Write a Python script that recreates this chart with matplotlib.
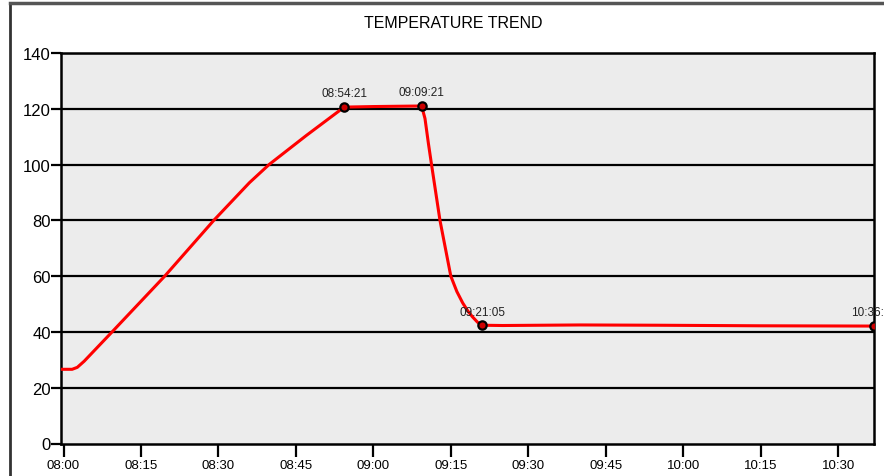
import pandas as pd
import matplotlib
matplotlib.use('Agg')
import matplotlib.pyplot as plt
import matplotlib.dates as mdates
from matplotlib.lines import Line2D

plt.rcParams['font.family'] = ['Liberation Sans', 'DejaVu Sans']

# Temperature trace
times = ['07:59:25', '08:01:40', '08:02:40', '08:04:00', '08:09:24', '08:19:36',
         '08:29:06', '08:36:00', '08:39:48', '08:47:00', '08:54:21', '09:00:00',
         '09:09:21', '09:10:00', '09:10:40', '09:11:16', '09:12:54', '09:15:00',
         '09:16:10', '09:17:18', '09:18:20', '09:19:12', '09:20:10', '09:21:05',
         '09:25:00', '09:40:00', '09:55:00', '10:15:00', '10:36:57']
temps = [26.6, 26.6, 27.3, 29.5, 40.0, 60.0,
         80.0, 93.5, 100.0, 110.4, 120.6, 120.8,
         121.0, 116.5, 107.5, 100.0, 80.0, 60.0,
         54.5, 50.4, 47.4, 45.4, 43.5, 42.4,
         42.3, 42.5, 42.4, 42.2, 42.1]

# Marked points with their time stamps
mark_times = ['08:54:21', '09:09:21', '09:21:05', '10:36:57']
mark_temps = [120.6, 121.0, 42.4, 42.1]

day = '2020-01-01 '
t = pd.to_datetime([day + s for s in times])
mt = pd.to_datetime([day + s for s in mark_times])

fig = plt.figure(figsize=(8.84, 4.77), dpi=100)
ax = fig.add_axes([60.5 / 884, 1 - 444.5 / 477, (874 - 60.5) / 884, (444.5 - 54) / 477])
ax.set_facecolor('#ececec')

for y in range(20, 141, 20):
    ax.axhline(y, color='black', lw=1.6, zorder=1)

ax.plot(t, temps, color='#ff0000', lw=2.2, zorder=3)
ax.plot(mt, mark_temps, 'o', ms=6, mfc='#cc0000', mec='black', mew=1.6, zorder=4)
for x, y, s in zip(mt, mark_temps, mark_times):
    ax.annotate(s, (x, y), xytext=(0, 5.5), textcoords='offset points',
                ha='center', va='bottom', fontsize=8.5, color='#222222',
                annotation_clip=False, zorder=5)

ax.set_xlim(t[0], t[-1])
ax.set_ylim(0, 140)
ax.set_yticks(range(0, 141, 20))
ax.xaxis.set_major_locator(mdates.MinuteLocator(byminute=[0, 15, 30, 45]))
ax.xaxis.set_major_formatter(mdates.DateFormatter('%H:%M'))
ax.tick_params(axis='y', length=7, width=1.6, pad=0, labelsize=12)
ax.tick_params(axis='x', length=9, width=1.6, pad=2, labelsize=9.5)
for sp in ax.spines.values():
    sp.set_linewidth(1.8)

fig.text(453 / 884, 1 - 23 / 477, 'TEMPERATURE TREND', ha='center', va='center', fontsize=11.5)

# outer panel frame (right and bottom edges fall outside the picture)
fig.add_artist(Line2D([9.5 / 884, 9.5 / 884], [0, 1 - 3.5 / 477], color='#333333', lw=2))
fig.add_artist(Line2D([9.5 / 884, 1], [1 - 3.5 / 477, 1 - 3.5 / 477], color='#555555', lw=2.5))

fig.savefig('out.png', dpi=100)
